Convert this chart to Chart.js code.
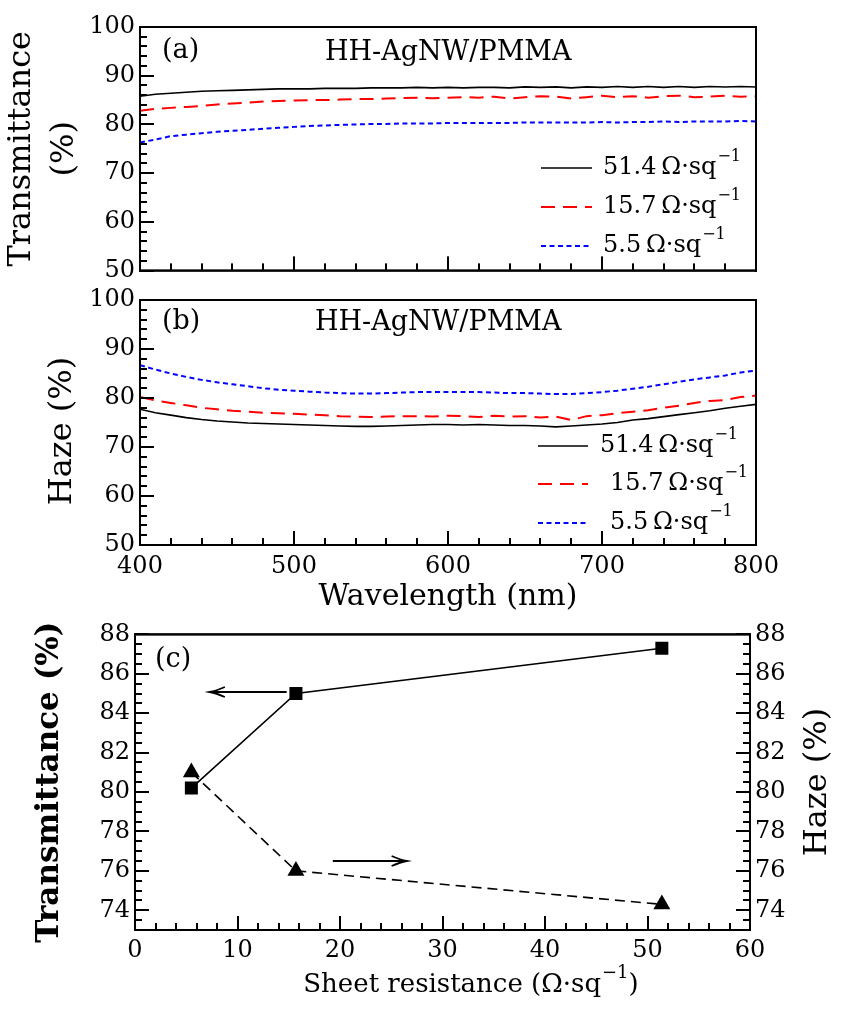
<!DOCTYPE html>
<html><head><meta charset="utf-8">
<script src="https://cdn.jsdelivr.net/npm/chart.js@4.4.1/dist/chart.umd.min.js"></script>
<style>
html,body{margin:0;padding:0;background:#fff;}
body{width:846px;height:1009px;position:relative;overflow:hidden;}
canvas{position:absolute;left:0;}
</style></head><body>
<canvas id="ca" width="846" height="290" style="top:0px;width:846px;height:290px"></canvas>
<canvas id="cb" width="846" height="335" style="top:280px;width:846px;height:335px"></canvas>
<canvas id="cc" width="846" height="394" style="top:615px;width:846px;height:394px"></canvas>
<script>
// ---------- DATA ----------
const wavelength = [400,410,420,430,440,450,460,470,480,490,500,510,520,530,540,550,560,570,580,590,600,
                    610,620,630,640,650,660,670,680,690,700,710,720,730,740,750,760,770,780,790,800];
const seriesLabels = ['51.4', '15.7', '5.5'];

// (a) transmittance spectra (%)
const trans51 = [85.8,86.2,86.4,86.6,86.8,86.9,87.0,87.1,87.2,87.3,87.3,87.3,87.4,87.4,87.4,87.5,87.5,87.5,87.6,87.5,87.6,
                 87.5,87.6,87.6,87.5,87.7,87.6,87.7,87.5,87.7,87.6,87.8,87.6,87.8,87.6,87.8,87.6,87.8,87.7,87.8,87.7];
const trans15 = [82.8,83.2,83.4,83.6,83.8,84.1,84.3,84.5,84.7,84.8,84.9,85.0,85.0,85.1,85.2,85.2,85.3,85.4,85.5,85.4,85.5,
                 85.6,85.5,85.7,85.3,85.6,85.8,85.7,85.3,85.6,85.9,85.6,85.8,85.5,85.8,85.9,85.6,85.7,85.9,85.7,85.8];
const trans5  = [76.3,76.9,77.6,77.9,78.2,78.5,78.7,78.9,79.1,79.3,79.5,79.7,79.8,79.9,80.0,80.1,80.1,80.2,80.2,80.2,80.3,
                 80.3,80.3,80.3,80.3,80.4,80.4,80.4,80.4,80.4,80.5,80.4,80.5,80.5,80.6,80.5,80.6,80.6,80.6,80.7,80.6];

// (b) haze spectra (%)
const haze51 = [77.7,77.0,76.5,76.0,75.6,75.3,75.1,74.9,74.8,74.7,74.6,74.5,74.4,74.3,74.2,74.2,74.3,74.4,74.5,74.6,74.6,
                74.5,74.6,74.5,74.4,74.4,74.3,74.1,74.3,74.5,74.7,75.0,75.5,75.8,76.2,76.6,77.0,77.4,77.9,78.3,78.7];
const haze15 = [80.2,79.5,79.0,78.5,78.0,77.7,77.4,77.2,77.0,76.9,76.8,76.6,76.5,76.3,76.2,76.1,76.2,76.3,76.3,76.2,76.4,
                76.3,76.1,76.4,76.2,76.3,76.0,76.2,75.5,76.3,76.5,76.9,77.2,77.5,78.0,78.4,79.0,79.4,79.6,80.2,80.5];
const haze5  = [86.7,85.8,85.0,84.3,83.7,83.2,82.8,82.4,82.0,81.7,81.5,81.3,81.1,81.0,80.9,80.9,81.0,81.1,81.2,81.2,81.2,
                81.2,81.2,81.1,81.0,81.0,80.9,80.8,80.8,81.0,81.2,81.5,81.9,82.3,82.8,83.3,83.8,84.2,84.6,85.2,85.6];

// (c) averages vs sheet resistance
const sheetResistance = [5.5, 15.7, 51.4];
const transmittanceAvg = [80.2, 85.0, 87.3];
const hazeAvg = [81.0, 76.0, 74.3];
// arrows (data units): [xFrom, xTo, y]
const arrowTrans = [14.8, 7.3, 85.1];
const arrowHaze  = [19.3, 26.5, 76.5];

// ticks
const wavelengthTicks = [400,500,600,700,800];
const percentTicks = [50,60,70,80,90,100];
const resistanceTicks = [0,10,20,30,40,50,60];
const avgTicks = [74,76,78,80,82,84,86,88];

// ---------- HELPERS ----------
const FONT = '"DejaVu Serif", serif';
Chart.defaults.font.family = FONT;
Chart.defaults.color = '#000';
const xy = (xs, ys) => xs.map((x, i) => ({x: x, y: ys[i]}));
const setTicks = arr => (scale) => { scale.ticks = arr.map(v => ({value: v})); };

function drawSup(ctx, parts, x, y, size, align) {
  const main = parts[0], sup = parts[1], tail = parts[2];
  const fMain = size + 'px ' + FONT, fSup = Math.round(size * 0.68) + 'px ' + FONT;
  ctx.font = fMain; const w1 = ctx.measureText(main).width;
  const w3 = tail ? ctx.measureText(tail).width : 0;
  ctx.font = fSup; const w2 = ctx.measureText(sup).width;
  let x0 = x;
  if (align === 'center') x0 = x - (w1 + w2 + 1 + w3) / 2;
  ctx.textAlign = 'left'; ctx.textBaseline = 'middle';
  ctx.font = fMain; ctx.fillText(main, x0, y);
  ctx.font = fSup; ctx.fillText(sup, x0 + w1 + 1, y - size * 0.45);
  if (tail) { ctx.font = fMain; ctx.fillText(tail, x0 + w1 + w2 + 1, y); }
}

// inward minor/major ticks + frame, positioned through the chart's own scales
function drawInTicks(chart, o) {
  const ctx = chart.ctx, a = chart.chartArea;
  const xs = chart.scales.x;
  ctx.save();
  ctx.setLineDash([]);
  ctx.globalAlpha = 1;
  ctx.globalCompositeOperation = 'source-over';
  ctx.fillStyle = '#000000';
  const nX = Math.round((xs.max - xs.min) / o.xMinor);
  for (let k = 0; k <= nX; k++) {
    const v = xs.min + k * o.xMinor;
    const px = Math.round(xs.getPixelForValue(v));
    let len = 7;
    for (let j = 0; j < o.xMajor.length; j++) if (Math.abs(o.xMajor[j] - v) < 1e-6) len = 14;
    ctx.fillRect(px - 1, a.bottom - len, 2, len);
  }
  const sides = o.rightTicks ? ['left', 'right'] : ['left'];
  for (let s = 0; s < sides.length; s++) {
    const scale = sides[s] === 'right' ? (chart.scales.y2 || chart.scales.y) : chart.scales.y;
    const n = Math.round((scale.max - scale.min) / o.yMinor);
    for (let k = 0; k <= n; k++) {
      const v = scale.min + k * o.yMinor;
      const py = Math.round(scale.getPixelForValue(v));
      let len = 7;
      for (let j = 0; j < o.yMajor.length; j++) if (Math.abs(o.yMajor[j] - v) < 1e-6) len = 14;
      const x0 = sides[s] === 'left' ? a.left : a.right - len;
      ctx.fillRect(x0, py - 1, len, 2);
    }
  }
  ctx.fillRect(a.left - 1, a.top - 1, a.right - a.left + 2, 2);
  ctx.fillRect(a.left - 1, a.bottom - 1, a.right - a.left + 2, 2);
  ctx.fillRect(a.left - 1, a.top - 1, 2, a.bottom - a.top + 2);
  ctx.fillRect(a.right - 1, a.top - 1, 2, a.bottom - a.top + 2);
  ctx.restore();
}

function makeTicks(o) {
  return { id: 'inticks', afterDraw(chart) { drawInTicks(chart, o); } };
}

function makeDecor(o) {
  return {
    id: 'decor',
    afterDatasetsDraw(chart) {
      const ctx = chart.ctx;
      const xs = chart.scales.x;
      ctx.save();
      ctx.setLineDash([]);
      ctx.fillStyle = '#000';
      (o.texts || []).forEach(t => {
        ctx.save();
        ctx.font = t.font; ctx.textAlign = t.align || 'left'; ctx.textBaseline = 'middle';
        ctx.translate(t.x, t.y);
        if (t.rot) ctx.rotate(t.rot);
        ctx.fillText(t.text, 0, 0);
        ctx.restore();
      });
      (o.supTexts || []).forEach(t => drawSup(ctx, t.parts, t.x, t.y, t.size, t.align));
      if (o.legend) {
        const L = o.legend;
        chart.data.datasets.forEach((ds, i) => {
          ctx.save();
          ctx.strokeStyle = ds.borderColor; ctx.lineWidth = ds.borderWidth;
          ctx.setLineDash(ds.borderDash || []);
          ctx.beginPath(); ctx.moveTo(L.x1, L.ys[i]); ctx.lineTo(L.x2, L.ys[i]); ctx.stroke();
          ctx.restore();
          ctx.fillStyle = '#000';
          drawSup(ctx, [ds.label + '\u2009\u03A9\u00B7sq', '\u22121', ''], L.tx[i], L.ys[i], 24, 'left');
        });
      }
      (o.arrows || []).forEach(ar => {
        const ys = chart.scales[ar.axis];
        const x0 = xs.getPixelForValue(ar.d[0]), x1 = xs.getPixelForValue(ar.d[1]);
        const py = Math.round(ys.getPixelForValue(ar.d[2]));
        const dir = Math.sign(x1 - x0);
        ctx.save();
        ctx.strokeStyle = '#000'; ctx.lineWidth = 2; ctx.setLineDash([]);
        ctx.beginPath(); ctx.moveTo(x0, py); ctx.lineTo(x1 - dir * 2, py); ctx.stroke();
        ctx.lineWidth = 1.8;
        ctx.beginPath();
        ctx.moveTo(x1 - dir * 15, py - 5); ctx.quadraticCurveTo(x1 - dir * 6, py - 1, x1, py);
        ctx.quadraticCurveTo(x1 - dir * 6, py + 1, x1 - dir * 15, py + 5);
        ctx.stroke();
        ctx.restore();
      });
      ctx.restore();
    }
  };
}

function lineDS(label, xs, ys, color, dash, width) {
  return {label: label, data: xy(xs, ys), borderColor: color, borderWidth: width, borderDash: dash,
          pointRadius: 0, tension: 0, fill: false};
}

const baseX = (ticksArr, min, max, height, showLabels, pad) => ({
  type: 'linear', min: min, max: max,
  grid: {display: false, drawTicks: false}, border: {display: false},
  ticks: {display: showLabels, font: {size: 24, family: FONT}, padding: pad || 6, color: '#000', maxRotation: 0},
  afterBuildTicks: setTicks(ticksArr),
  afterFit: s => { s.height = height; }
});
const baseY = (ticksArr, min, max, width, position) => ({
  type: 'linear', min: min, max: max, position: position || 'left',
  grid: {display: false, drawTicks: false}, border: {display: false},
  ticks: {font: {size: 24, family: FONT}, padding: 5, color: '#000'},
  afterBuildTicks: setTicks(ticksArr),
  afterFit: s => { s.width = width; }
});
const common = {
  responsive: false, animation: false, devicePixelRatio: 1,
  plugins: {legend: {display: false}, tooltip: {enabled: false}}
};

// ---------- PANEL (a) ----------
const tickCfgA = {xMinor: 20, xMajor: wavelengthTicks, yMinor: 2, yMajor: percentTicks};
const yA = baseY(percentTicks, 50, 100, 140);
yA.title = {display: true, text: ['Transmittance', '(%)'], font: {size: 32, family: FONT, lineHeight: 1.35},
            padding: {top: 0, bottom: 0}, color: '#000'};
const chartA = new Chart(document.getElementById('ca'), {
  type: 'line',
  data: {datasets: [
    lineDS(seriesLabels[0], wavelength, trans51, '#000000', [], 1.6),
    lineDS(seriesLabels[1], wavelength, trans15, '#ff0000', [14, 8], 2),
    lineDS(seriesLabels[2], wavelength, trans5, '#0000ff', [5, 3.5], 2)
  ]},
  options: Object.assign({}, common, {
    layout: {padding: {left: 0, right: 90, top: 27, bottom: 18}},
    scales: {x: baseX(wavelengthTicks, 400, 800, 0, false), y: yA}
  }),
  plugins: [
    makeTicks(tickCfgA),
    makeDecor({
      texts: [
        {text: '(a)', x: 162, y: 51, font: '27px ' + FONT},
        {text: 'HH-AgNW/PMMA', x: 325, y: 53, font: '27px ' + FONT}
      ],
      legend: {x1: 541, x2: 592, ys: [168, 207, 246], tx: [603, 603, 603]}
    })
  ]
});

// ---------- PANEL (b) ----------
const tickCfgB = {xMinor: 20, xMajor: wavelengthTicks, yMinor: 2, yMajor: percentTicks};
const xB = baseX(wavelengthTicks, 400, 800, 70, true, 7);
xB.title = {display: true, text: 'Wavelength (nm)', font: {size: 30, family: FONT, lineHeight: 1.2},
            padding: {top: 0, bottom: 0}, color: '#000'};
const chartB = new Chart(document.getElementById('cb'), {
  type: 'line',
  data: {datasets: [
    lineDS(seriesLabels[0], wavelength, haze51, '#000000', [], 1.6),
    lineDS(seriesLabels[1], wavelength, haze15, '#ff0000', [14, 8], 2),
    lineDS(seriesLabels[2], wavelength, haze5, '#0000ff', [5, 3.5], 2)
  ]},
  options: Object.assign({}, common, {
    layout: {padding: {left: 0, right: 90, top: 20, bottom: 0}},
    scales: {x: xB, y: baseY(percentTicks, 50, 100, 140)}
  }),
  plugins: [
    makeTicks(tickCfgB),
    makeDecor({
      texts: [
        {text: '(b)', x: 162, y: 42, font: '27px ' + FONT},
        {text: 'HH-AgNW/PMMA', x: 315, y: 43, font: '27px ' + FONT},
        {text: 'Haze (%)', x: 63, y: 151, font: '32px ' + FONT, align: 'center', rot: -Math.PI / 2}
      ],
      legend: {x1: 538, x2: 588, ys: [166, 204, 243], tx: [600, 610, 610]}
    })
  ]
});

// ---------- PANEL (c) ----------
const tickCfgC = {xMinor: 2, xMajor: resistanceTicks, yMinor: 0.5, yMajor: avgTicks, rightTicks: true};
const yC = baseY(avgTicks, 73, 88, 135, 'left');
yC.title = {display: true, text: 'Transmittance (%)', font: {size: 31, family: FONT, weight: 'bold', lineHeight: 1.2},
            padding: {top: 31, bottom: 0}, color: '#000'};
const y2C = baseY(avgTicks, 73, 88, 96, 'right');
const chartC = new Chart(document.getElementById('cc'), {
  type: 'line',
  data: {datasets: [
    {label: 'Transmittance', data: xy(sheetResistance, transmittanceAvg), yAxisID: 'y',
     borderColor: '#000', borderWidth: 1.6, pointStyle: 'rect', pointRadius: 9.2,
     pointBackgroundColor: '#000', pointBorderColor: '#000', pointBorderWidth: 0, tension: 0},
    {label: 'Haze', data: xy(sheetResistance, hazeAvg), yAxisID: 'y2',
     borderColor: '#000', borderWidth: 1.6, borderDash: [10, 6], pointStyle: 'triangle', pointRadius: 9.8,
     pointBackgroundColor: '#000', pointBorderColor: '#000', pointBorderWidth: 0, tension: 0}
  ]},
  options: Object.assign({}, common, {
    layout: {padding: {left: 0, right: 0, top: 18, bottom: 0}},
    scales: {x: baseX(resistanceTicks, 0, 60, 79, true, 6), y: yC, y2: y2C}
  }),
  plugins: [
    makeTicks(tickCfgC),
    makeDecor({
      texts: [
        {text: '(c)', x: 155, y: 45, font: '27px ' + FONT},
        {text: 'Haze (%)', x: 818, y: 167, font: '32px ' + FONT, align: 'center', rot: -Math.PI / 2}
      ],
      supTexts: [
        {parts: ['Sheet resistance (\u03A9\u00B7sq', '\u22121', ')'], x: 471, y: 370, size: 26, align: 'center'}
      ],
      arrows: [{d: arrowTrans, axis: 'y'}, {d: arrowHaze, axis: 'y2'}]
    })
  ]
});

// draw the inward ticks again after the initial render, as a fallback
drawInTicks(chartA, tickCfgA);
drawInTicks(chartB, tickCfgB);
drawInTicks(chartC, tickCfgC);
</script>
</body></html>
